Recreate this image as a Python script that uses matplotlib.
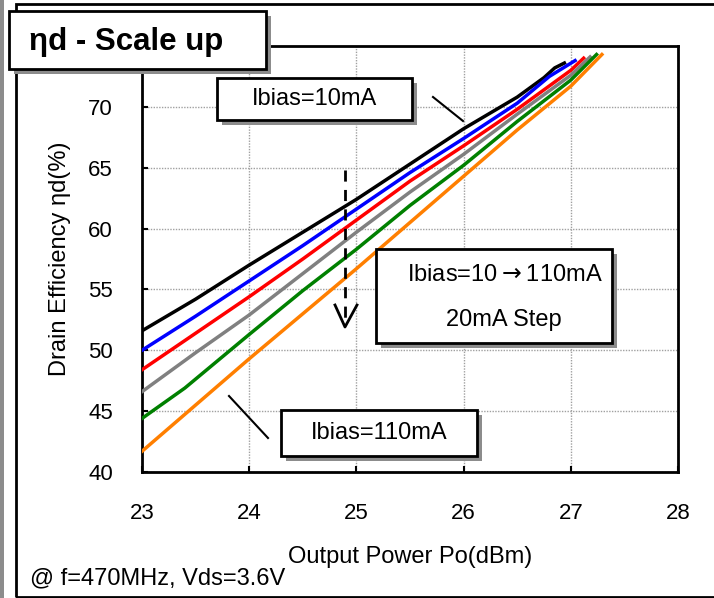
import matplotlib.pyplot as plt
from matplotlib.patches import Rectangle
from matplotlib.lines import Line2D

plt.rcParams['font.family'] = ['Liberation Sans', 'DejaVu Sans']

# Output power (dBm) and drain efficiency (%) for each bias current
po_10 = [23, 23.5, 24, 24.5, 25, 25.5, 26, 26.5, 26.75, 26.85, 26.94]
eff_10 = [51.6, 54.2, 57.0, 59.7, 62.4, 65.3, 68.2, 70.8, 72.4, 73.2, 73.6]
po_30 = [23, 23.5, 24, 24.5, 25, 25.5, 26, 26.5, 26.8, 27.04]
eff_30 = [50.0, 52.8, 55.7, 58.6, 61.6, 64.6, 67.4, 70.3, 72.5, 73.8]
po_50 = [23, 23.5, 24, 24.5, 25, 25.5, 26, 26.5, 27, 27.12]
eff_50 = [48.4, 51.4, 54.4, 57.5, 60.7, 63.9, 66.8, 69.8, 73.0, 74.0]
po_70 = [23, 23.5, 24, 24.5, 25, 25.5, 26, 26.5, 27, 27.18]
eff_70 = [46.6, 49.8, 52.9, 56.3, 59.7, 63.0, 66.1, 69.4, 72.6, 74.1]
po_90 = [23, 23.4, 24, 24.5, 25, 25.5, 26, 26.5, 27, 27.24]
eff_90 = [44.4, 46.9, 51.3, 54.9, 58.3, 61.9, 65.2, 68.8, 72.2, 74.3]
po_110 = [23, 23.5, 24, 24.5, 25, 25.5, 26, 26.5, 27, 27.29]
eff_110 = [41.7, 45.5, 49.3, 53.0, 56.7, 60.5, 64.3, 68.1, 71.7, 74.3]

series = [(po_10, eff_10, 'black'), (po_30, eff_30, '#0000ff'),
          (po_50, eff_50, '#ff0000'), (po_70, eff_70, '#808080'),
          (po_90, eff_90, '#008000'), (po_110, eff_110, '#ff7f00')]

x_ticks = [23, 24, 25, 26, 27, 28]
y_ticks = [40, 45, 50, 55, 60, 65, 70]

W, H = 714, 598
fig = plt.figure(figsize=(W / 100, H / 100), dpi=100)


def fx(px):
    return px / W


def fy(py):
    return 1 - py / H


# outer frame and grey bar on the left
fig.patches.append(Rectangle((0, 0), fx(4), 1, transform=fig.transFigure,
                             facecolor='#8c8c8c', edgecolor='none'))
fig.patches.append(Rectangle((fx(16), fy(597)), fx(720) - fx(16), fy(4) - fy(597),
                             transform=fig.transFigure, facecolor='none',
                             edgecolor='black', lw=2))

ax = fig.add_axes([fx(142), fy(472), fx(678) - fx(142), fy(46) - fy(472)])
for x, y, c in series:
    ax.plot(x, y, color=c, lw=2.5, zorder=3)

ax.set_xlim(23, 28)
ax.set_ylim(40, 75)
ax.set_xticks(x_ticks)
ax.set_yticks(y_ticks)
ax.tick_params(direction='in', length=4, width=1.5, labelsize=16)
ax.tick_params(axis='x', pad=22)
ax.tick_params(axis='y', pad=21)
ax.grid(True, color='#a0a0a0', ls=(0, (1, 1)), lw=1)
for s in ax.spines.values():
    s.set_linewidth(2)
ax.set_xlabel('Output Power Po(dBm)', fontsize=17, labelpad=16)
ax.set_ylabel('Drain Efficiency ηd(%)', fontsize=17, labelpad=12)


def box(x0, y0, x1, y1):
    fig.patches.append(Rectangle((fx(x0 + 5), fy(y1 + 5)), fx(x1) - fx(x0), fy(y0) - fy(y1),
                                 transform=fig.transFigure, facecolor='#8c8c8c',
                                 edgecolor='none', zorder=5))
    fig.patches.append(Rectangle((fx(x0), fy(y1)), fx(x1) - fx(x0), fy(y0) - fy(y1),
                                 transform=fig.transFigure, facecolor='white',
                                 edgecolor='black', lw=2, zorder=6))


def line(xs, ys, **kw):
    fig.lines.append(Line2D([fx(v) for v in xs], [fy(v) for v in ys],
                            transform=fig.transFigure, color='black', zorder=7, **kw))


# title box
box(9, 11, 266, 69)
fig.text(fx(29), fy(42), 'ηd - Scale up', fontsize=22.5, fontweight='bold',
         va='center', ha='left', zorder=8)

# Ibias=10mA label
box(217, 78, 412, 120)
fig.text(fx(314), fy(99), 'Ibias=10mA', fontsize=17, ha='center', va='center', zorder=8)
line([433, 463], [97, 121], lw=1.5)

# step label
box(376, 249, 612, 343)
fig.text(fx(505), fy(275), 'Ibias=10$\\rightarrow$110mA', fontsize=17,
         ha='center', va='center', zorder=8)
fig.text(fx(504), fy(320), '20mA Step', fontsize=17, ha='center', va='center', zorder=8)

# dashed arrow
line([345, 345], [170, 322], lw=2, ls=(0, (4, 3)))
line([335, 345, 357], [305, 327, 305], lw=2)

# Ibias=110mA label
box(281, 410, 477, 456)
fig.text(fx(379), fy(433), 'Ibias=110mA', fontsize=17, ha='center', va='center', zorder=8)
line([229, 268], [396, 438], lw=1.5)

fig.text(fx(30), fy(578), '@ f=470MHz, Vds=3.6V', fontsize=17, ha='left', va='center')

fig.savefig('out.png', dpi=100)
